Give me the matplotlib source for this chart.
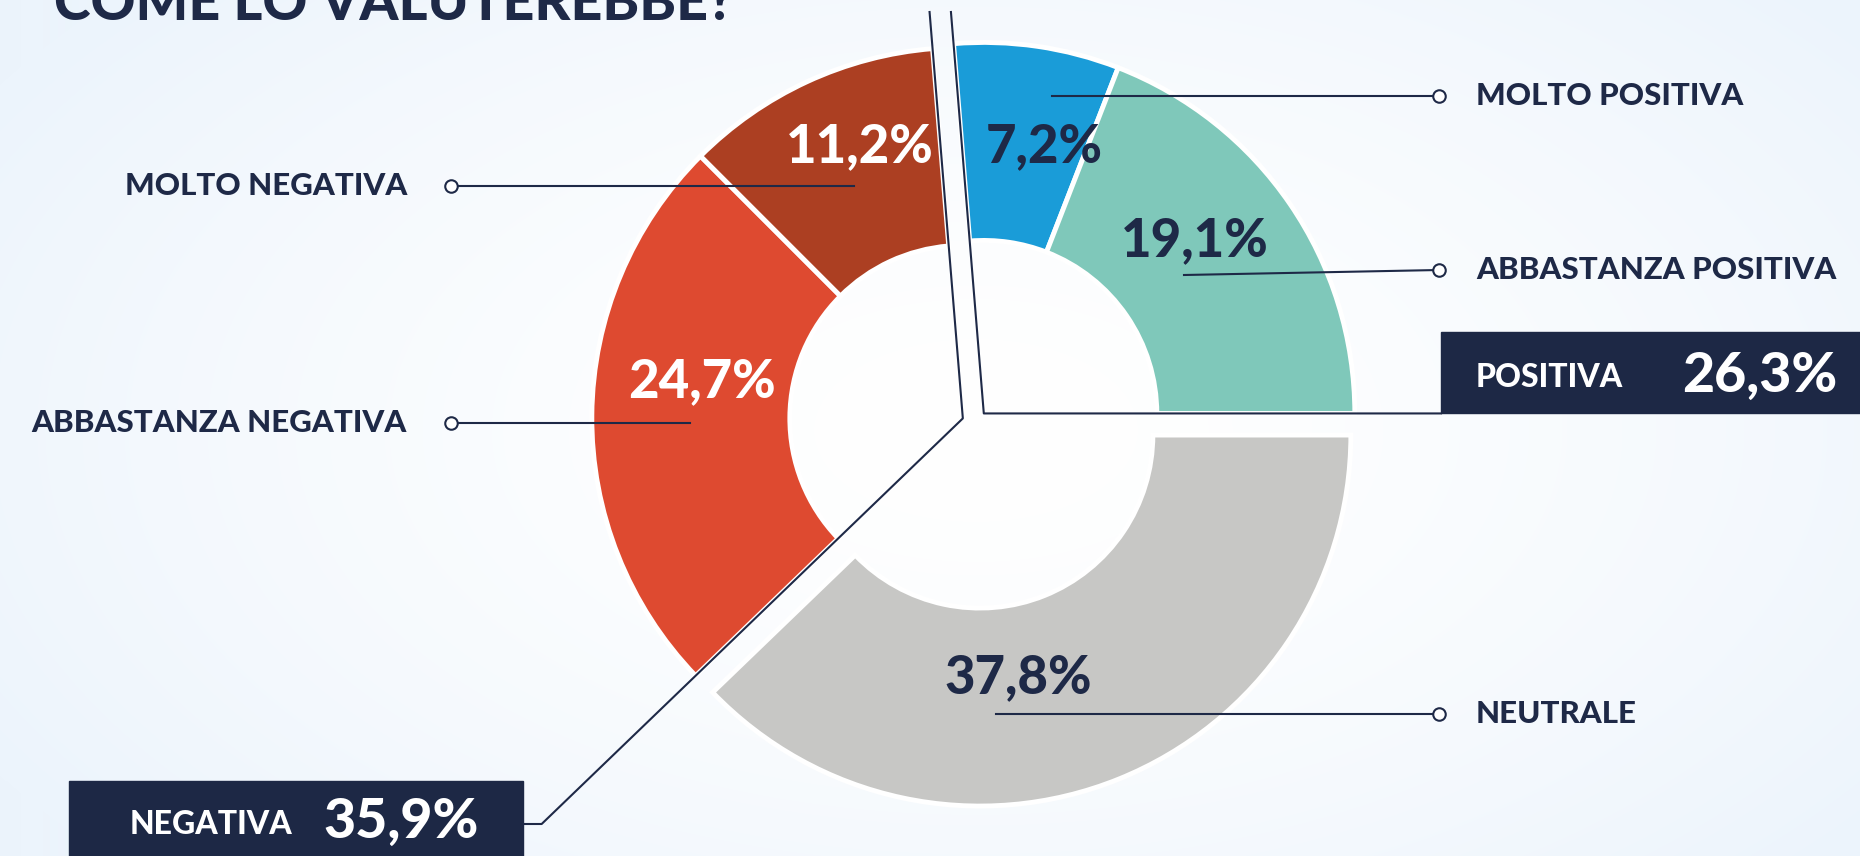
import numpy as np
import matplotlib
matplotlib.use("Agg")
import matplotlib.pyplot as plt
from matplotlib.patches import Rectangle

# --- data ---
categories = ["MOLTO POSITIVA", "ABBASTANZA POSITIVA", "NEUTRALE",
              "ABBASTANZA NEGATIVA", "MOLTO NEGATIVA"]
values = [7.2, 19.1, 37.8, 24.7, 11.2]
groups = [[0, 1], [2], [3, 4]]          # positive, neutral, negative
summary_labels = ["POSITIVA", "NEGATIVA"]
summary_values = [26.3, 35.9]
title = "COME LO VALUTEREBBE?"

# --- style ---
navy = "#1e2947"
slice_colors = ["#1a9cd8", "#7fc8ba", "#c7c7c5", "#de4a30", "#ac3f22"]
pct_colors = [navy, navy, navy, "white", "white"]

W, H = 1860, 856


def sy(y):
    # layout numbers below are measured from the top of the picture
    return H - y


def pct(v):
    return f"{v:.1f}%".replace(".", ",")


plt.rcParams["font.family"] = ["Lato", "DejaVu Sans"]

fig = plt.figure(figsize=(W / 100, H / 100), dpi=100)
ax = fig.add_axes([0, 0, 1, 1])

# soft radial background
yy, xx = np.mgrid[0:H, 0:W]
d = np.clip(np.hypot((xx - 975) / 1150, (yy - 430) / 650), 0, 1) ** 1.5
c0 = np.array([1.0, 1.0, 1.0])
c1 = np.array([236, 244, 252]) / 255
bg = c0 + (c1 - c0) * d[..., None]
ax.imshow(bg, extent=(0, W, 0, H), origin="upper", zorder=0, aspect="auto")

# donut, one pie call per group so each group is pulled out as a block
cx, cy = 975, sy(423)
R, r_in = 371, 173
shift = 13
start = 360 * sum(values[i] for i in groups[0]) / 100
geo = []
for g in groups:
    fr = [values[i] / 100 for i in g]
    span = 360 * sum(fr)
    mid = np.radians(start - span / 2)
    c = (cx + shift * np.cos(mid), cy + shift * np.sin(mid))
    ax.pie(fr, colors=[slice_colors[i] for i in g], startangle=start,
           counterclock=False, normalize=False, center=c, radius=R,
           wedgeprops=dict(width=R - r_in, edgecolor="white", linewidth=3.5))
    geo.append((c, start, start - span))
    start -= span


def ray(c, a, t):
    a = np.radians(a)
    return c[0] + t * np.cos(a), c[1] + t * np.sin(a)


lw = 1.5
top = sy(12)
wt = "black"

# positive bracket + box
cp, a0, a1 = geo[0]
p_top = ray(cp, a0, (top - cp[1]) / np.sin(np.radians(a0)))
bx = 1441
p_end = ray(cp, a1, (bx - cp[0]) / np.cos(np.radians(a1)))
ax.plot([p_top[0], cp[0], p_end[0]], [p_top[1], cp[1], p_end[1]],
        color=navy, lw=lw, zorder=5)
ax.add_patch(Rectangle((bx, p_end[1]), W - bx + 5, 81, color="#1d2845", zorder=5))
ax.text(1476, p_end[1] + 36, summary_labels[0], color="white", fontsize=23,
        fontweight=wt, va="center", zorder=6)
ax.text(1682, p_end[1] + 38, pct(summary_values[0]), color="white", fontsize=40,
        fontweight=wt, va="center", zorder=6)

# negative bracket + box
cn, b0, b1 = geo[2]
n_top = ray(cn, b1, (top - cn[1]) / np.sin(np.radians(b1)))
ny = sy(824)
n_mid = ray(cn, b0, (ny - cn[1]) / np.sin(np.radians(b0)))
nbx = 523
ax.plot([n_top[0], cn[0], n_mid[0], nbx], [n_top[1], cn[1], n_mid[1], ny],
        color=navy, lw=lw, zorder=5)
ax.add_patch(Rectangle((69, ny - 43), nbx - 69, 86, color="#1d2845", zorder=5))
ax.text(130, ny, summary_labels[1], color="white", fontsize=23,
        fontweight=wt, va="center", zorder=6)
ax.text(323, ny + 2, pct(summary_values[1]), color="white", fontsize=40,
        fontweight=wt, va="center", zorder=6)

# percentage labels inside the slices
pct_pos = [(1044, 147), (1195, 241), (1018, 678), (702, 382), (860, 147)]
for v, (x, y), col in zip(values, pct_pos, pct_colors):
    ax.text(x, sy(y), pct(v), color=col, fontsize=38, fontweight=wt,
            ha="center", va="center", zorder=6)

# leader lines with open circles and category labels
lead_start = [(1052, 96), (1184, 275), (996, 714), (690, 423), (854, 186)]
lead_end = [(1439, 96), (1439, 270), (1439, 714), (451, 423), (451, 186)]
for name, (x0, y0), (x1, y1) in zip(categories, lead_start, lead_end):
    ax.plot([x0, x1], [sy(y0), sy(y1)], color=navy, lw=lw, zorder=7)
    ax.plot([x1], [sy(y1)], marker="o", ms=9, mfc="white", mec=navy,
            mew=1.5, zorder=8)
    if x1 > x0:
        ax.text(1476, sy(y1), name, color=navy, fontsize=22.5, fontweight=wt,
                ha="left", va="center", zorder=8)
    else:
        ax.text(407, sy(y1), name, color=navy, fontsize=22.5, fontweight=wt,
                ha="right", va="center", zorder=8)

ax.text(54, sy(20), title, color=navy, fontsize=40, fontweight=wt,
        va="baseline", zorder=8)

ax.set_xlim(0, W)
ax.set_ylim(0, H)
ax.set_aspect("auto")
ax.axis("off")

fig.savefig("out.png", dpi=100)
